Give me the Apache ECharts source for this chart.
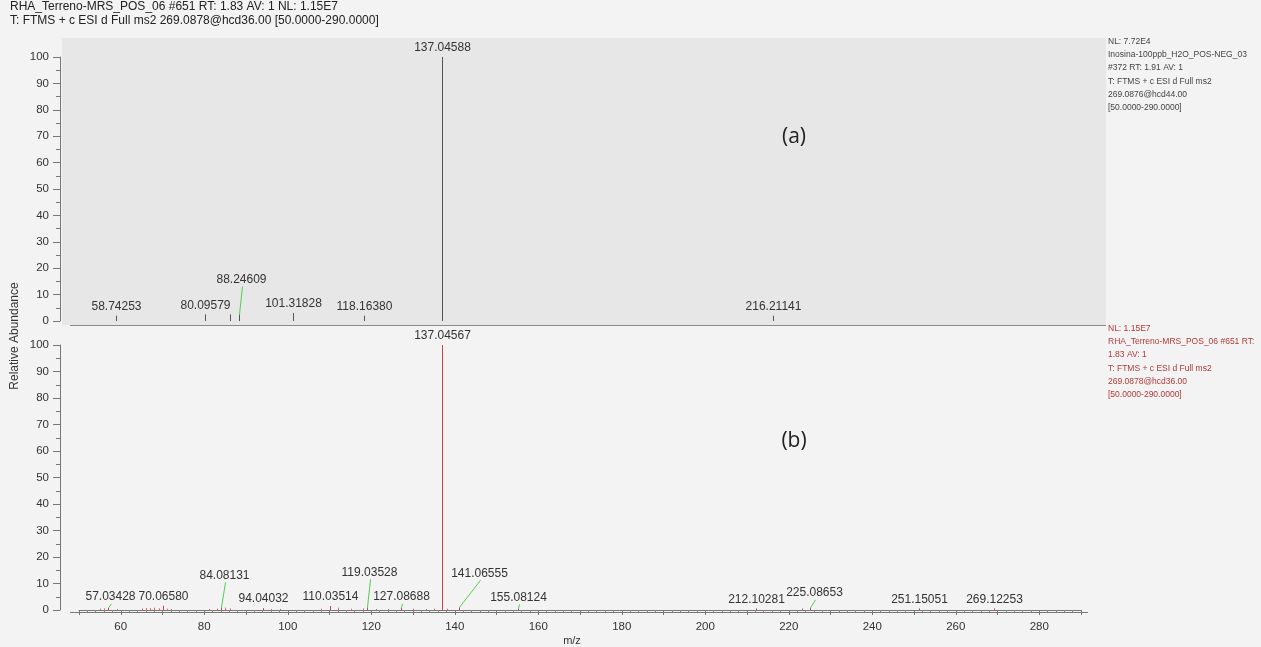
<!DOCTYPE html>
<html>
<head>
<meta charset="utf-8">
<title>MS2 spectra – Inosina vs RHA_Terreno-MRS_POS_06</title>
<script src="https://cdn.jsdelivr.net/npm/echarts@6/dist/echarts.min.js"></script>
<style>
  html, body { margin: 0; padding: 0; background: #f3f3f3; }
  #chart { width: 1261px; height: 647px; }
</style>
</head>
<body>
<div id="chart"></div>
<script>
// ---- spectrum (a): Inosina standard, labelled centroids ----
const topMz    = [58.74253, 80.09579, 88.24609, 101.31828, 118.16380, 137.04588, 216.21141];
const topAbund = [2.0, 2.5, 2.5, 3.0, 2.0, 100, 2.0];
// unlabelled centroids in (a)
const topMinorMz    = [86.10];
const topMinorAbund = [2.5];

// ---- spectrum (b): RHA_Terreno-MRS_POS_06, labelled centroids ----
const botMz    = [57.03428, 70.06580, 84.08131, 94.04032, 110.03514, 119.03528, 127.08688,
                  137.04567, 141.06555, 155.08124, 212.10281, 225.08653, 251.15051, 269.12253];
const botAbund = [0.8, 1.6, 1.0, 0.7, 1.5, 1.0, 0.8,
                  100, 1.0, 0.6, 0.6, 0.8, 0.6, 0.6];
// unlabelled low-level centroids in (b)
const botMinorMz    = [55.05, 56.05, 59.05, 65.05, 66.05, 67.06, 68.05, 69.07, 71.05, 72.08,
                       81.07, 83.06, 85.07, 86.10, 96.04, 98.06, 108.04, 112.05, 115.06,
                       118.05, 121.06, 124.04, 130.07, 133.05, 135.03, 138.05, 223.08];
const botMinorAbund = [0.5, 0.6, 0.4, 0.6, 0.8, 0.7, 0.9, 0.6, 0.5, 0.4,
                       0.4, 0.5, 0.9, 0.6, 0.4, 0.4, 0.5, 0.9, 0.5,
                       0.6, 0.4, 0.4, 0.5, 0.4, 0.5, 0.5, 0.6];

// axis ticks
const xTicks = { min: 50, max: 290, step: 10, labelEvery: 20 };
const yTicks = { min: 0, max: 100, step: 10 };

// header / scan-filter texts
const headerLines = [
  'RHA_Terreno-MRS_POS_06 #651 RT: 1.83 AV: 1 NL: 1.15E7',
  'T: FTMS + c ESI d Full ms2 269.0878@hcd36.00 [50.0000-290.0000]'
];
const infoTop = [
  'NL: 7.72E4',
  'Inosina-100ppb_H2O_POS-NEG_03',
  '#372 RT: 1.91 AV: 1',
  'T: FTMS + c ESI d Full ms2',
  '269.0876@hcd44.00',
  '[50.0000-290.0000]'
];
const infoBottom = [
  'NL: 1.15E7',
  'RHA_Terreno-MRS_POS_06 #651 RT:',
  '1.83 AV: 1',
  'T: FTMS + c ESI d Full ms2',
  '269.0878@hcd36.00',
  '[50.0000-290.0000]'
];

// label displacements (pixels) for labels pushed aside, drawn with a leader line
const labelShift = {
  '88.24609': [2, -26],
  '57.03428': [2, -2],
  '84.08131': [3, -23],
  '119.03528': [2, -26],
  '127.08688': [0, -2],
  '141.06555': [20, -25],
  '155.08124': [0, -2],
  '225.08653': [4, -6]
};

const FONT = '"Liberation Sans", Arial, sans-serif';

function stickSeries(xi, mz, ab, stroke, labelled) {
  return {
    type: 'custom',
    xAxisIndex: xi,
    yAxisIndex: xi,
    clip: false,
    silent: true,
    data: mz.map((m, i) => [m, ab[i]]),
    encode: { x: 0, y: 1 },
    z: labelled ? 4 : 3,
    renderItem: function (params, api) {
      const m = api.value(0);
      const base = api.coord([m, 0]);
      const top = api.coord([m, api.value(1)]);
      const px = Math.round(base[0]) + 0.5;
      const children = [{
        type: 'line',
        shape: { x1: px, y1: base[1], x2: px, y2: top[1] },
        style: { stroke: stroke, lineWidth: 1 }
      }];
      if (labelled) {
        const txt = m.toFixed(5);
        const sh = labelShift[txt] || [0, 0];
        const lx = px + sh[0];
        const ly = top[1] - 3 + sh[1];
        children.push({
          type: 'text',
          style: {
            text: txt, x: lx, y: ly,
            align: 'center', verticalAlign: 'bottom',
            font: '12px ' + FONT, fill: '#333'
          }
        });
        if (sh[0] !== 0 || sh[1] !== 0) {
          children.push({
            type: 'line',
            shape: { x1: px, y1: top[1], x2: lx + 1, y2: ly + 1 },
            style: { stroke: '#4fd04f', lineWidth: 1 }
          });
        }
      }
      return { type: 'group', children: children };
    }
  };
}

function yAxisFor(gi) {
  return {
    gridIndex: gi, type: 'value',
    min: yTicks.min, max: yTicks.max, interval: yTicks.step,
    offset: 19,
    axisLine: { show: true, lineStyle: { color: '#777', width: 1 } },
    axisTick: { show: true, length: 7, lineStyle: { color: '#777' } },
    minorTick: { show: true, splitNumber: 2, length: 4, lineStyle: { color: '#777' } },
    axisLabel: { color: '#333', fontSize: 11.5, fontFamily: FONT, margin: 11 },
    splitLine: { show: false }
  };
}

const chart = echarts.init(document.getElementById('chart'), null, { renderer: 'canvas' });

const option = {
  backgroundColor: '#f3f3f3',
  animation: false,
  grid: [
    { left: 79, width: 1002, top: 57, height: 264 },
    { left: 79, width: 1002, top: 345, height: 265 }
  ],
  xAxis: [
    {
      gridIndex: 0, type: 'value',
      min: xTicks.min, max: xTicks.max, interval: xTicks.step,
      axisLine: { show: false }, axisTick: { show: false },
      axisLabel: { show: false }, splitLine: { show: false }
    },
    {
      gridIndex: 1, type: 'value',
      min: xTicks.min, max: xTicks.max, interval: xTicks.step,
      offset: 2,
      axisLine: { show: true, lineStyle: { color: '#777' } },
      axisTick: { show: true, length: 5, lineStyle: { color: '#777' } },
      minorTick: { show: true, splitNumber: 5, length: 3, lineStyle: { color: '#888' } },
      axisLabel: {
        color: '#333', fontSize: 11.5, fontFamily: FONT, margin: 9,
        formatter: v => (v % xTicks.labelEvery === 0 ? String(v) : '')
      },
      splitLine: { show: false }
    }
  ],
  yAxis: [yAxisFor(0), yAxisFor(1)],
  graphic: [
    // shaded frame of spectrum (a)
    { type: 'rect', z: -10, silent: true,
      shape: { x: 62, y: 38, width: 1044, height: 287 },
      style: { fill: '#e7e7e7' } },
    { type: 'line', z: 1, silent: true,
      shape: { x1: 70, y1: 325.5, x2: 1106, y2: 325.5 },
      style: { stroke: '#8a8a8a', lineWidth: 1 } },
    // m/z axis line runs a little past the scan range on both ends
    { type: 'line', z: 1, silent: true,
      shape: { x1: 70, y1: 612.5, x2: 1088, y2: 612.5 },
      style: { stroke: '#777', lineWidth: 1 } },
    { type: 'text', left: 10, top: 0, silent: true,
      style: { text: headerLines.join('\n'), font: '12px ' + FONT, lineHeight: 14, fill: '#222' } },
    { type: 'text', left: 1108, top: 35, silent: true,
      style: { text: infoTop.join('\n'), font: '8.5px ' + FONT, lineHeight: 13.2, fill: '#444' } },
    { type: 'text', left: 1108, top: 322, silent: true,
      style: { text: infoBottom.join('\n'), font: '8.5px ' + FONT, lineHeight: 13.2, fill: '#b03a3a' } },
    { type: 'text', x: 794, y: 137, silent: true,
      style: { text: '(a)', font: '21px "Open Sans", ' + FONT, fill: '#222', align: 'center', verticalAlign: 'middle' } },
    { type: 'text', x: 794, y: 441, silent: true,
      style: { text: '(b)', font: '21px "Open Sans", ' + FONT, fill: '#222', align: 'center', verticalAlign: 'middle' } },
    { type: 'text', x: 15, y: 336, rotation: Math.PI / 2, silent: true,
      style: { text: 'Relative Abundance', font: '12px ' + FONT, fill: '#333', align: 'center', verticalAlign: 'middle' } },
    { type: 'text', x: 572, y: 641, silent: true,
      style: { text: 'm/z', font: '11px ' + FONT, fill: '#333', align: 'center', verticalAlign: 'middle' } }
  ],
  series: [
    stickSeries(0, topMinorMz, topMinorAbund, '#555', false),
    stickSeries(0, topMz, topAbund, '#555', true),
    stickSeries(1, botMinorMz, botMinorAbund, '#e06a6a', false),
    stickSeries(1, botMz, botAbund, '#cc4444', true)
  ]
};

chart.setOption(option);
</script>
</body>
</html>
